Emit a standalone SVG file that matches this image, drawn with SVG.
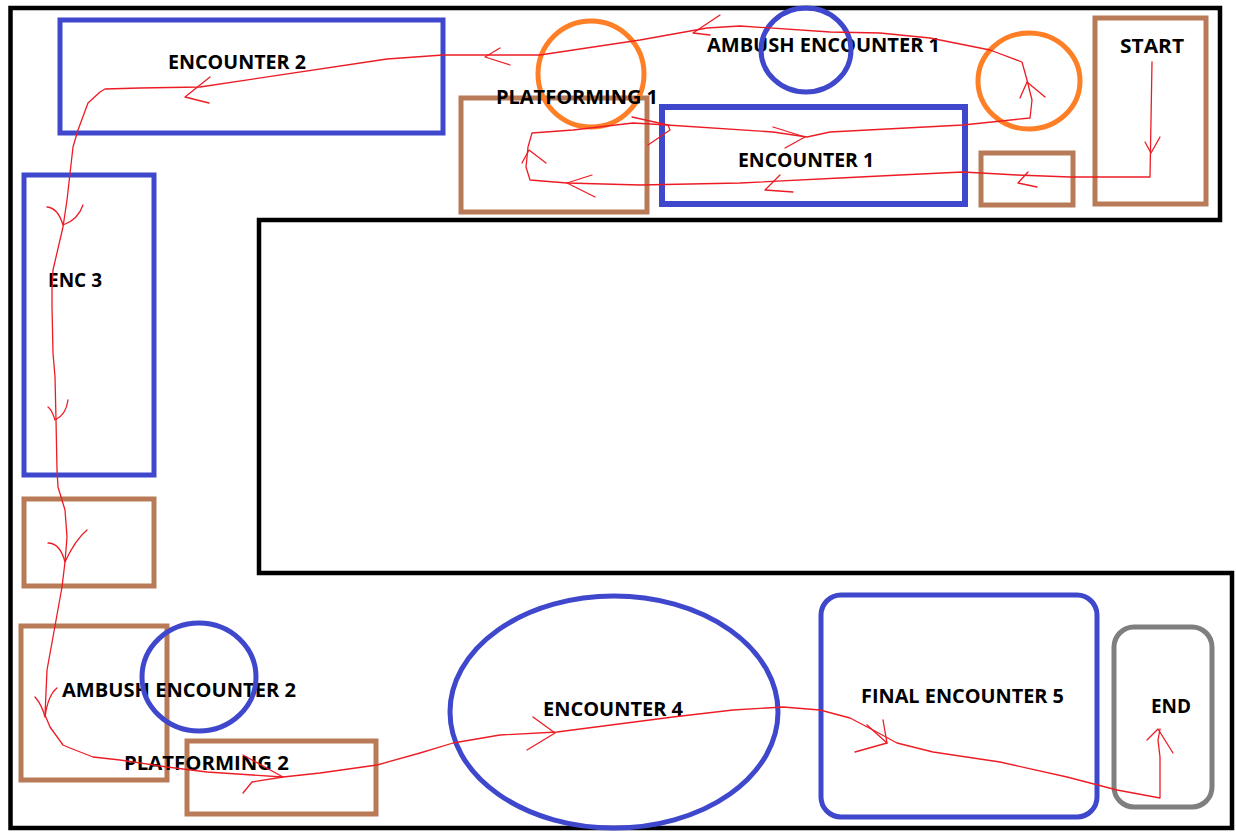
<svg xmlns="http://www.w3.org/2000/svg" width="1236" height="832" viewBox="0 0 1236 832">
<style>
.wall{fill:none;stroke:#000;stroke-width:4.5}
.blue{fill:none;stroke:#3F48CC;stroke-width:5}
.orange{fill:none;stroke:#FF7F27;stroke-width:5}
.brown{fill:none;stroke:#B97A57;stroke-width:5}
.gray{fill:none;stroke:#7F7F7F;stroke-width:5}
.route{fill:none;stroke:#ED1C24;stroke-width:1.3;stroke-linejoin:round;stroke-linecap:round}
.lbl{font-family:"Open Sans","Noto Sans","DejaVu Sans",sans-serif;font-weight:700;font-size:20px;fill:#000}
</style>
<rect x="0" y="0" width="1236" height="832" fill="#fff"/>
<g id="walls">
<path class="wall" d="M10.5,8 H1220 V220 H259 V573 H1232 V828 H10.5 Z"/>
</g>
<g id="start"><rect class="brown" x="1095" y="18" width="111" height="186"/><text class="lbl" x="1120" y="53" textLength="64" lengthAdjust="spacingAndGlyphs">START</text></g>
<g id="small-platform"><rect class="brown" x="981" y="153" width="92" height="52"/></g>
<g id="orange-circle-2"><ellipse class="orange" cx="1029" cy="81" rx="51" ry="48"/></g>
<g id="encounter-1"><rect class="blue" x="662" y="107" width="303" height="97" style="stroke-width:6"/><text class="lbl" x="738" y="167" textLength="136" lengthAdjust="spacingAndGlyphs">ENCOUNTER 1</text></g>
<g id="ambush-encounter-1"><text class="lbl" x="707" y="52" textLength="233" lengthAdjust="spacingAndGlyphs">AMBUSH ENCOUNTER 1</text><ellipse class="blue" cx="806" cy="50" rx="45" ry="42"/></g>
<g id="platforming-1"><rect class="brown" x="461" y="98" width="186" height="114"/><ellipse class="orange" cx="591" cy="74" rx="53" ry="53"/><text class="lbl" x="496" y="104" textLength="162" lengthAdjust="spacingAndGlyphs">PLATFORMING 1</text></g>
<g id="encounter-2"><rect class="blue" x="60" y="20" width="383" height="113"/><text class="lbl" x="168" y="69" textLength="138" lengthAdjust="spacingAndGlyphs">ENCOUNTER 2</text></g>
<g id="enc-3"><rect class="blue" x="24" y="175" width="130" height="300"/><text class="lbl" x="48" y="287" textLength="54" lengthAdjust="spacingAndGlyphs">ENC 3</text></g>
<g id="platform-left"><rect class="brown" x="24" y="499" width="130" height="87"/></g>
<g id="ambush-encounter-2"><rect class="brown" x="21" y="626" width="146" height="154"/><text class="lbl" x="62" y="697" textLength="234" lengthAdjust="spacingAndGlyphs">AMBUSH ENCOUNTER 2</text><ellipse class="blue" cx="199" cy="677" rx="57" ry="54"/></g>
<g id="platforming-2"><rect class="brown" x="187" y="741" width="189" height="73"/><text class="lbl" x="124" y="770" textLength="165" lengthAdjust="spacingAndGlyphs">PLATFORMING 2</text></g>
<g id="encounter-4"><ellipse class="blue" cx="614" cy="712" rx="164" ry="116"/><text class="lbl" x="543" y="716" textLength="140" lengthAdjust="spacingAndGlyphs">ENCOUNTER 4</text></g>
<g id="final-encounter-5"><rect class="blue" x="821" y="595" width="276" height="222" rx="20"/><text class="lbl" x="861" y="703" textLength="203" lengthAdjust="spacingAndGlyphs">FINAL ENCOUNTER 5</text></g>
<g id="end"><rect class="gray" x="1114" y="627" width="98" height="180" rx="20"/><text class="lbl" x="1151" y="713" textLength="40" lengthAdjust="spacingAndGlyphs">END</text></g>
<g id="connectors">
<polyline class="route" points="1152,62 1151,120 1150,177 1070,177 1017,175 963,172 900,175 840,178 740,183 640,185 567,183 530,180 526,167 528,147 532,133 573,130 633,123 667,125 773,132 807,137 830,132 963,125 1030,118 1032,100 1027,80 1022,62 990,50 930,38 880,33 830,32 740,26 707,28 640,40 540,55 460,55 443,55 387,59 200,87 140,88 105,89 100,92 88,103 78,130 73,147 67,200 63,227 53,270 52,290 52,307 53,353 55,377 56,420 57,470 58,487 65,510 67,537 65,562 62,587 53,637 47,670 45,715 50,727 63,745 70,748 93,757 120,760 167,767 207,772 283,777 320,773 377,765 420,753 453,743 500,735 557,732 673,717 733,710 783,707 820,710 850,718 873,730 897,743 933,752 1000,762 1067,777 1117,790 1160,798 1160,757 1158,740 1160,729"/>
<polyline class="route" points="1145,142 1151,153 1160,137"/>
<polyline class="route" points="1028,172 1018,183 1037,187"/>
<polyline class="route" points="780,175 765,190 793,192"/>
<polyline class="route" points="592,175 567,183 595,197"/>
<polyline class="route" points="522,163 529,150 546,163"/>
<polyline class="route" points="632,117 668,125 670,130 648,145"/>
<polyline class="route" points="773,127 805,137 785,148"/>
<polyline class="route" points="1020,98 1027,82 1045,97"/>
<polyline class="route" points="720,15 693,33 710,35"/>
<polyline class="route" points="500,48 485,57 510,65"/>
<polyline class="route" points="210,77 185,97 209,103"/>
<path class="route" d="M47,207 Q58,208 63,225 Q78,220 83,205"/>
<path class="route" d="M48,407 Q52,410 55,420 Q66,415 68,400"/>
<path class="route" d="M48,543 Q60,543 65,562 Q75,540 87,530"/>
<path class="route" d="M35,697 Q42,705 45,717 Q48,695 57,688"/>
<polyline class="route" points="243,755 283,777 252,782 243,793"/>
<polyline class="route" points="533,717 555,733 527,750"/>
<polyline class="route" points="867,725 887,743 855,752"/>
<polyline class="route" points="883,720 887,743"/>
<polyline class="route" points="1147,740 1158,729 1173,753"/>
</g>
</svg>
